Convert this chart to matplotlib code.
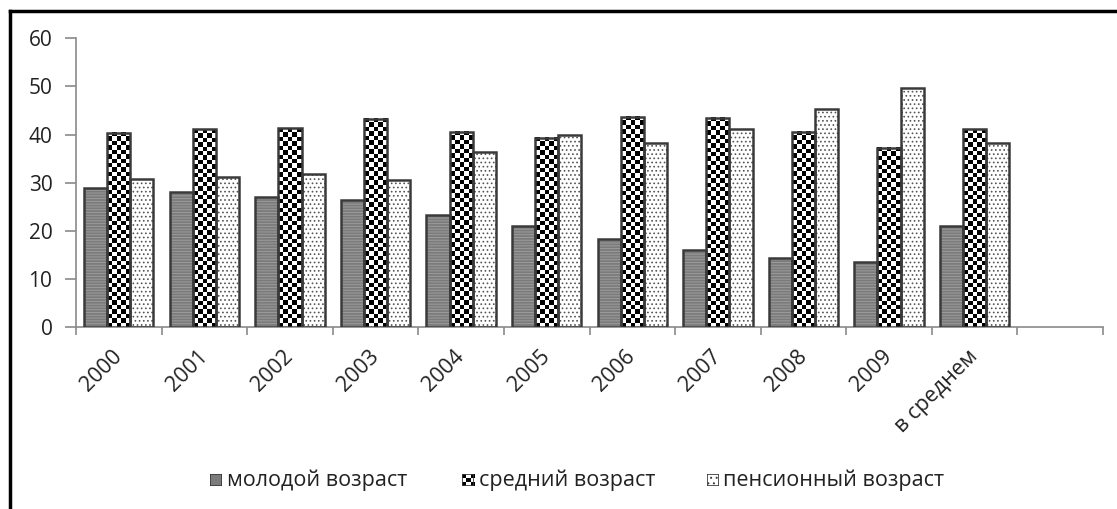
import numpy as np
from matplotlib import pyplot as plt
from matplotlib.lines import Line2D
from matplotlib.patches import Rectangle

plt.rcParams['font.family'] = ['Open Sans', 'DejaVu Sans']
plt.rcParams['hatch.linewidth'] = 0.7

# доли возрастных групп по годам, %
years = ["2000", "2001", "2002", "2003", "2004", "2005", "2006", "2007",
         "2008", "2009", "в среднем"]
young = [29.0, 28.0, 27.1, 26.5, 23.4, 21.0, 18.3, 16.1, 14.4, 13.5, 21.0]
middle = [40.4, 41.1, 41.3, 43.3, 40.5, 39.3, 43.7, 43.4, 40.5, 37.3, 41.1]
pension = [30.8, 31.2, 31.9, 30.5, 36.3, 39.9, 38.3, 41.1, 45.4, 49.6, 38.3]
labels = ["молодой возраст", "средний возраст", "пенсионный возраст"]

W, H = 1117, 509
EDGE = '#3a3a3a'
AXIS = '#8a8a8a'
TXT = '#222222'


def checker_img(rows, cols):
    return np.indices((rows, cols)).sum(axis=0) % 2


fig = plt.figure(figsize=(W / 100, H / 100), dpi=100)
ax = fig.add_axes([76 / W, 1 - 327.3 / H, (1103 - 76) / W, (327.3 - 38.3) / H])
ax.set_xlim(-0.5, 11.5)
ax.set_ylim(0, 60)

x = np.arange(len(years))
w = 0.27

# молодой возраст: серый с мелкой штриховкой
ax.bar(x - w, young, w, color='#7b7b7b', linewidth=0, zorder=2)
ax.bar(x - w, young, w, color='none', edgecolor='#9c9c9c', hatch='------',
       linewidth=0, zorder=3)
ax.bar(x - w, young, w, color='none', edgecolor=EDGE, linewidth=1.8, zorder=4)

# средний возраст: шахматка
ppu = ax.transData.transform((0, 1))[1] - ax.transData.transform((0, 0))[1]
for xi, h in zip(x, middle):
    rows = max(1, int(round(h * ppu / 4.4)))
    ax.imshow(checker_img(rows, 5), cmap='gray', origin='lower',
              extent=(xi - w / 2, xi + w / 2, 0, h), interpolation='nearest',
              aspect='auto', zorder=3)
ax.bar(x, middle, w, color='none', edgecolor=EDGE, linewidth=1.8, zorder=4)

# пенсионный возраст: белый в точку
ax.bar(x + w, pension, w, color='white', linewidth=0, zorder=2)
ax.bar(x + w, pension, w, color='none', edgecolor='#555555', hatch='....',
       linewidth=0, zorder=3)
ax.bar(x + w, pension, w, color='none', edgecolor=EDGE, linewidth=1.8, zorder=4)

ax.set_xlim(-0.5, 11.5)
ax.set_ylim(0, 60)

for s in ['top', 'right']:
    ax.spines[s].set_visible(False)
for s in ['left', 'bottom']:
    ax.spines[s].set_color(AXIS)
    ax.spines[s].set_linewidth(1.2)

ax.set_yticks(range(0, 61, 10))
ax.tick_params(axis='y', length=8, width=1.2, color=AXIS, pad=9,
               labelsize=15, labelcolor=TXT)
ax.set_xticks(x)
ax.set_xticklabels(years, rotation=45, ha='right', va='center',
                   rotation_mode='anchor')
ax.tick_params(axis='x', which='major', length=0, pad=19, labelsize=15.5,
               labelcolor=TXT)
ax.set_xticks(np.arange(-0.5, 12, 1), minor=True)
ax.tick_params(axis='x', which='minor', length=6, width=1.2, color=AXIS)

# легенда внизу
legend_items = [(210, 227), (462, 479), (707, 723)]
ly = 480
for i, ((px, tx), lab) in enumerate(zip(legend_items, labels)):
    lax = fig.add_axes([px / W, 1 - (ly + 6) / H, 12 / W, 12 / H])
    lax.set_xlim(0, 1)
    lax.set_ylim(0, 1)
    lax.axis('off')
    if i == 0:
        lax.add_patch(Rectangle((0, 0), 1, 1, facecolor='#7b7b7b',
                                edgecolor=EDGE, linewidth=1.2))
    elif i == 1:
        lax.imshow(checker_img(3, 3), cmap='gray', extent=(0, 1, 0, 1),
                   interpolation='nearest', aspect='auto')
        lax.add_patch(Rectangle((0, 0), 1, 1, facecolor='none',
                                edgecolor=EDGE, linewidth=1.2))
    else:
        lax.add_patch(Rectangle((0, 0), 1, 1, facecolor='white',
                                edgecolor=EDGE, linewidth=1.2, hatch='...'))
    fig.text(tx / W, 1 - ly / H, lab, fontsize=15.5, va='center', ha='left',
             color=TXT)

# рамка области диаграммы
fig.add_artist(Line2D([10 / W, 1], [1 - 11 / H, 1 - 11 / H], color='black',
                      linewidth=2.5))
fig.add_artist(Line2D([10 / W, 10 / W], [0, 1 - 11 / H], color='black',
                      linewidth=2.5))

fig.savefig('out.png', dpi=100, facecolor='white')
